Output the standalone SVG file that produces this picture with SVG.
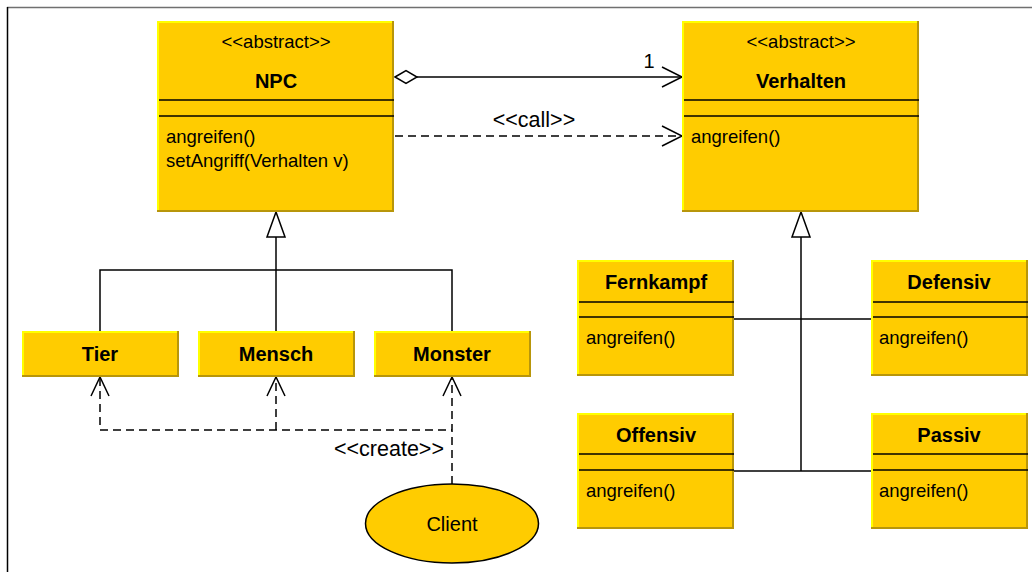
<svg xmlns="http://www.w3.org/2000/svg" width="1032" height="572" viewBox="0 0 1032 572">
  <style>
    /* bevelled class boxes: dark shade, light rim, yellow face */
    .shade { fill: #B8960A; }
    .light { fill: #FFFF00; }
    .face { fill: #FFCC00; }
    .sep { stroke: #000; stroke-width: 1.5; }
    text { font-family: "Liberation Sans", Arial, sans-serif; fill: #000; }
    .st { font-size: 18.5px; text-anchor: middle; }
    .lbl { font-size: 21.5px; text-anchor: middle; }
    .nm { font-size: 20px; font-weight: bold; text-anchor: middle; }
    .op { font-size: 18.5px; }
    .ln { fill: none; stroke: #000; stroke-width: 1.5; }
    .dash { fill: none; stroke: #000; stroke-width: 1.5; stroke-dasharray: 8 5; }
    .head { fill: none; stroke: #000; stroke-width: 1.5; }
    .tri { fill: #fff; stroke: #000; stroke-width: 1.5; }
  </style>

  <rect x="0" y="0" width="1032" height="572" fill="#fff"/>
  <!-- frame -->
  <line x1="7" y1="7.5" x2="1032" y2="7.5" stroke="#707070" stroke-width="1.5"/>
  <line x1="7.5" y1="7" x2="7.5" y2="572" stroke="#000" stroke-width="1.5"/>

  <!-- connectors -->
  <g id="connectors">
    <!-- aggregation NPC -> Verhalten -->
    <line class="ln" x1="417" y1="77" x2="682" y2="77"/>
    <polygon points="395,77 406,70.5 417,77 406,83.5" fill="#fff" stroke="#000" stroke-width="1.5"/>
    <polyline class="head" points="662,67 682,77 662,87"/>
    <text x="649" y="68" class="lbl" style="font-size:20px">1</text>
    <!-- call dependency -->
    <line class="dash" x1="395" y1="136" x2="681" y2="136"/>
    <polyline class="head" points="662,126 682,136 662,146"/>
    <text x="534" y="127" class="lbl">&lt;&lt;call&gt;&gt;</text>

    <!-- NPC generalization -->
    <polygon class="tri" points="276,212 267,237 285,237"/>
    <line class="ln" x1="276" y1="237" x2="276" y2="331"/>
    <polyline class="ln" points="100,331 100,270 452,270 452,331"/>

    <!-- Verhalten generalization -->
    <polygon class="tri" points="801,212 792,237 810,237"/>
    <line class="ln" x1="801" y1="237" x2="801" y2="471"/>
    <line class="ln" x1="734" y1="319" x2="871" y2="319"/>
    <line class="ln" x1="734" y1="471" x2="871" y2="471"/>

    <!-- create dependencies from Client -->
    <line class="dash" x1="452" y1="484" x2="452" y2="378"/>
    <polyline class="dash" points="100,378 100,430 452,430"/>
    <line class="dash" x1="276" y1="430" x2="276" y2="378"/>
    <polyline class="head" points="91,396 100,377 109,396"/>
    <polyline class="head" points="267,396 276,377 285,396"/>
    <polyline class="head" points="443,396 452,377 461,396"/>
    <text x="389" y="456" class="lbl">&lt;&lt;create&gt;&gt;</text>
  </g>

  <!-- NPC -->
  <g id="npc">
    <rect class="shade" x="157" y="21" width="237" height="191"/>
    <rect class="light" x="157" y="21" width="235" height="189"/>
    <rect class="face" x="159" y="23" width="233" height="187"/>
    <line class="sep" x1="159" y1="100" x2="394" y2="100"/>
    <line class="sep" x1="159" y1="116" x2="394" y2="116"/>
    <text x="276" y="48" class="st">&lt;&lt;abstract&gt;&gt;</text>
    <text x="276" y="88" class="nm">NPC</text>
    <text x="166" y="143" class="op">angreifen()</text>
    <text x="166" y="167" class="op">setAngriff(Verhalten v)</text>
  </g>

  <!-- Verhalten -->
  <g id="verhalten">
    <rect class="shade" x="682" y="21" width="237" height="191"/>
    <rect class="light" x="682" y="21" width="235" height="189"/>
    <rect class="face" x="684" y="23" width="233" height="187"/>
    <line class="sep" x1="684" y1="100" x2="919" y2="100"/>
    <line class="sep" x1="684" y1="116" x2="919" y2="116"/>
    <text x="801" y="48" class="st">&lt;&lt;abstract&gt;&gt;</text>
    <text x="801" y="88" class="nm">Verhalten</text>
    <text x="691" y="143" class="op">angreifen()</text>
  </g>

  <!-- Tier -->
  <g id="tier">
    <rect class="shade" x="22" y="331" width="157" height="46"/>
    <rect class="light" x="22" y="331" width="155" height="44"/>
    <rect class="face" x="24" y="333" width="153" height="42"/>
    <text x="100" y="361" class="nm">Tier</text>
  </g>

  <!-- Mensch -->
  <g id="mensch">
    <rect class="shade" x="198" y="331" width="157" height="46"/>
    <rect class="light" x="198" y="331" width="155" height="44"/>
    <rect class="face" x="200" y="333" width="153" height="42"/>
    <text x="276" y="361" class="nm">Mensch</text>
  </g>

  <!-- Monster -->
  <g id="monster">
    <rect class="shade" x="374" y="331" width="157" height="46"/>
    <rect class="light" x="374" y="331" width="155" height="44"/>
    <rect class="face" x="376" y="333" width="153" height="42"/>
    <text x="452" y="361" class="nm">Monster</text>
  </g>

  <!-- Client -->
  <g id="client">
    <ellipse cx="452" cy="523.5" rx="86.5" ry="39.5" fill="#FFCC00" stroke="#000" stroke-width="1.5"/>
    <text x="452" y="531" class="st" style="font-size:20px">Client</text>
  </g>

  <!-- Fernkampf -->
  <g id="fernkampf">
    <rect class="shade" x="577" y="260" width="157" height="116"/>
    <rect class="light" x="577" y="260" width="155" height="114"/>
    <rect class="face" x="579" y="262" width="153" height="112"/>
    <line class="sep" x1="579" y1="302" x2="734" y2="302"/>
    <line class="sep" x1="579" y1="317" x2="734" y2="317"/>
    <text x="656" y="289" class="nm">Fernkampf</text>
    <text x="586" y="344" class="op">angreifen()</text>
  </g>

  <!-- Defensiv -->
  <g id="defensiv">
    <rect class="shade" x="871" y="260" width="157" height="116"/>
    <rect class="light" x="871" y="260" width="155" height="114"/>
    <rect class="face" x="873" y="262" width="153" height="112"/>
    <line class="sep" x1="873" y1="302" x2="1028" y2="302"/>
    <line class="sep" x1="873" y1="317" x2="1028" y2="317"/>
    <text x="949" y="289" class="nm">Defensiv</text>
    <text x="879" y="344" class="op">angreifen()</text>
  </g>

  <!-- Offensiv -->
  <g id="offensiv">
    <rect class="shade" x="577" y="413" width="157" height="116"/>
    <rect class="light" x="577" y="413" width="155" height="114"/>
    <rect class="face" x="579" y="415" width="153" height="112"/>
    <line class="sep" x1="579" y1="454" x2="734" y2="454"/>
    <line class="sep" x1="579" y1="470" x2="734" y2="470"/>
    <text x="656" y="442" class="nm">Offensiv</text>
    <text x="586" y="497" class="op">angreifen()</text>
  </g>

  <!-- Passiv -->
  <g id="passiv">
    <rect class="shade" x="871" y="413" width="157" height="116"/>
    <rect class="light" x="871" y="413" width="155" height="114"/>
    <rect class="face" x="873" y="415" width="153" height="112"/>
    <line class="sep" x1="873" y1="454" x2="1028" y2="454"/>
    <line class="sep" x1="873" y1="470" x2="1028" y2="470"/>
    <text x="949" y="442" class="nm">Passiv</text>
    <text x="879" y="497" class="op">angreifen()</text>
  </g>
</svg>
